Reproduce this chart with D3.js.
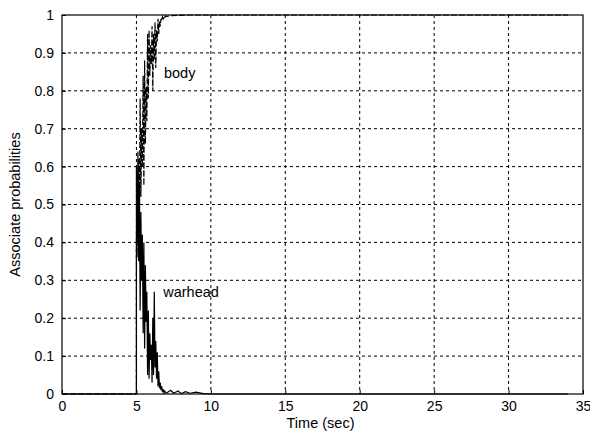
<!DOCTYPE html>
<html>
<head>
<meta charset="utf-8">
<script src="https://cdn.jsdelivr.net/npm/d3@7"></script>
<style>
  body { margin: 0; background: #fff; }
  svg { font-family: "Liberation Sans", Arial, sans-serif; }
  .grid line { stroke: #000; stroke-width: 1; stroke-dasharray: 3,3; }
</style>
</head>
<body>
<div id="chart"></div>
<script>
const margin = {left: 62, top: 15, right: 7, bottom: 38};
const width = 590, height = 432;
const vpWidth = width - margin.left - margin.right;
const vpHeight = height - margin.top - margin.bottom;

const xTicks = [0, 5, 10, 15, 20, 25, 30, 35];
const yTicks = [0, 0.1, 0.2, 0.3, 0.4, 0.5, 0.6, 0.7, 0.8, 0.9, 1];

// body probability
const bodyTime = [0, 5, 5, 5.05, 5.1, 5.15, 5.2, 5.25, 5.3, 5.35, 5.4, 5.45, 5.5, 5.55, 5.6, 5.65, 5.7,
  5.75, 5.8, 5.85, 5.9, 5.95, 6, 6.05, 6.1, 6.15, 6.2, 6.25, 6.3, 6.35, 6.4, 6.45, 6.5, 6.55,
  6.6, 6.65, 6.7, 6.75, 6.8, 6.85, 6.9, 6.95, 7, 7.3, 7.8, 8.5, 34];
const bodyProb = [0, 0, 0.40, 0.58, 0.36, 0.62, 0.45, 0.78, 0.52, 0.70, 0.60, 0.84, 0.55, 0.88, 0.66, 0.81, 0.72,
  0.95, 0.78, 0.96, 0.84, 0.92, 0.87, 0.97, 0.80, 0.95, 0.88, 0.98, 0.86, 0.96, 0.93, 0.99, 0.95, 0.985,
  0.97, 0.99, 0.985, 0.995, 0.99, 0.997, 0.994, 0.998, 0.996, 0.998, 0.999, 1, 1];

// warhead probability
const warheadTime = [0, 5, 5, 5.05, 5.1, 5.15, 5.2, 5.25, 5.3, 5.35, 5.4, 5.45, 5.5, 5.55, 5.6, 5.65, 5.7,
  5.75, 5.8, 5.85, 5.9, 5.95, 6, 6.05, 6.1, 6.15, 6.2, 6.25, 6.3, 6.35, 6.4, 6.45, 6.5, 6.55,
  6.6, 6.65, 6.7, 6.75, 6.8, 6.85, 6.9, 7, 7.3, 7.5, 7.8, 8, 8.3, 8.6, 9, 9.5, 10, 34];
const warheadProb = [0, 0, 0.60, 0.40, 0.64, 0.35, 0.55, 0.22, 0.48, 0.30, 0.42, 0.16, 0.40, 0.12, 0.34, 0.19, 0.27,
  0.05, 0.22, 0.04, 0.16, 0.09, 0.13, 0.03, 0.20, 0.05, 0.27, 0.07, 0.14, 0.04, 0.11, 0.02, 0.06, 0.015,
  0.03, 0.01, 0.02, 0.005, 0.012, 0.003, 0.008, 0.002, 0.01, 0.002, 0.008, 0.001, 0.006, 0.002, 0.005, 0.001, 0, 0];

const labels = [
  {text: "body", t: 6.85, p: 0.835},
  {text: "warhead", t: 6.8, p: 0.255}
];

var x = d3.scaleLinear().domain([0, 35]).range([0, vpWidth]);
var y = d3.scaleLinear().domain([0, 1]).range([vpHeight, 0]);

var svg = d3.select("#chart").append("svg")
    .attr("width", width)
    .attr("height", height);

var g = svg.append("g")
    .attr("transform", `translate(${margin.left}, ${margin.top})`);

// grid
g.append("g").attr("class", "grid")
  .selectAll("line").data(xTicks.slice(1, -1)).enter().append("line")
    .attr("x1", d => x(d)).attr("x2", d => x(d))
    .attr("y1", 0).attr("y2", vpHeight);

g.append("g").attr("class", "grid")
  .selectAll("line").data(yTicks.slice(1, -1)).enter().append("line")
    .attr("y1", d => y(d)).attr("y2", d => y(d))
    .attr("x1", 0).attr("x2", vpWidth);

// data lines
var line = d3.line().x(d => x(d[0])).y(d => y(d[1]));

g.append("path")
    .datum(d3.zip(warheadTime, warheadProb))
    .attr("d", line)
    .attr("fill", "none")
    .attr("stroke", "#000")
    .attr("stroke-width", 1.2);

g.append("path")
    .datum(d3.zip(bodyTime, bodyProb))
    .attr("d", line)
    .attr("fill", "none")
    .attr("stroke", "#000")
    .attr("stroke-width", 1.2)
    .attr("stroke-dasharray", "6,2");

// axes
var xAxis = d3.axisBottom(x).tickValues(xTicks).tickFormat(d3.format("d"))
    .tickSizeInner(-4).tickSizeOuter(0).tickPadding(7);
var yAxis = d3.axisLeft(y).tickValues(yTicks).tickFormat(d => d === 0 || d === 1 ? d : d3.format(".1f")(d))
    .tickSizeInner(-4).tickSizeOuter(0).tickPadding(8);

var xg = g.append("g").attr("transform", `translate(0, ${vpHeight})`).call(xAxis);
var yg = g.append("g").call(yAxis);
[xg, yg].forEach(a => {
  a.select(".domain").remove();
  a.selectAll("text").attr("font-size", 14).attr("font-family", "Liberation Sans, Arial, sans-serif").attr("fill", "#000");
  a.selectAll("line").attr("stroke", "#000");
});

// box
g.append("rect")
    .attr("width", vpWidth).attr("height", vpHeight)
    .attr("fill", "none").attr("stroke", "#000").attr("stroke-width", 1.2);

// labels on curves
g.selectAll(".lbl").data(labels).enter().append("text")
    .attr("class", "lbl")
    .attr("x", d => x(d.t)).attr("y", d => y(d.p))
    .attr("font-size", 14.5)
    .text(d => d.text);

svg.append("text")
    .attr("x", margin.left + vpWidth / 2 - 2).attr("y", 428)
    .attr("text-anchor", "middle").attr("font-size", 14.5)
    .text("Time (sec)");

svg.append("text")
    .attr("transform", `translate(20, ${margin.top + vpHeight / 2}) rotate(-90)`)
    .attr("text-anchor", "middle").attr("font-size", 14.5)
    .text("Associate probabilities");
</script>
</body>
</html>
